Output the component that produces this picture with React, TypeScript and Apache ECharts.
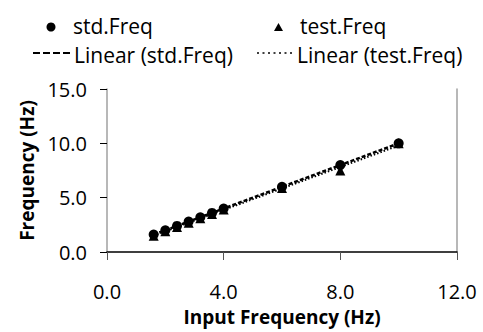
import React, { useEffect, useRef } from "react";
import * as echarts from "echarts";

const inputFreq = [1.6, 2.0, 2.4, 2.8, 3.2, 3.6, 4.0, 6.0, 8.0, 10.0];
const stdFreq = [1.6, 2.0, 2.4, 2.8, 3.2, 3.6, 4.0, 6.0, 8.0, 10.0];
const testFreq = [1.5, 1.9, 2.3, 2.7, 3.1, 3.5, 3.9, 5.9, 7.5, 10.0];
const legendLabels = ["std.Freq", "test.Freq", "Linear (std.Freq)", "Linear (test.Freq)"];
const xTitle = "Input Frequency (Hz)";
const yTitle = "Frequency (Hz)";

function linearFit(xs: number[], ys: number[]): number[][] {
  const n = xs.length;
  const mx = xs.reduce((a, b) => a + b, 0) / n;
  const my = ys.reduce((a, b) => a + b, 0) / n;
  let sxy = 0;
  let sxx = 0;
  for (let i = 0; i < n; i++) {
    sxy += (xs[i] - mx) * (ys[i] - my);
    sxx += (xs[i] - mx) * (xs[i] - mx);
  }
  const b = sxy / sxx;
  const a = my - b * mx;
  const x0 = Math.min(...xs);
  const x1 = Math.max(...xs);
  return [
    [x0, a + b * x0],
    [x1, a + b * x1],
  ];
}

const FONT = "'Open Sans', 'DejaVu Sans', sans-serif";

export default function App() {
  const ref = useRef<HTMLDivElement>(null);
  useEffect(() => {
    if (!ref.current) return;
    const chart = echarts.init(ref.current, undefined, { renderer: "svg" });
    const stdPts = inputFreq.map((x, i) => [x, stdFreq[i]]);
    const testPts = inputFreq.map((x, i) => [x, testFreq[i]]);
    const legendText = (x: number, y: number, t: string) => ({
      type: "text",
      x,
      y,
      style: { text: t, fill: "#000", font: `21px ${FONT}`, verticalAlign: "middle", align: "left" },
    });
    chart.setOption({
      animation: false,
      backgroundColor: "#fff",
      grid: { left: 107, right: 26, top: 89, bottom: 80, containLabel: false },
      xAxis: {
        type: "value",
        min: 0,
        max: 12,
        interval: 4,
        name: xTitle,
        nameLocation: "middle",
        nameGap: 55,
        nameTextStyle: { color: "#000", fontSize: 19, fontWeight: "bold", fontFamily: FONT },
        axisLine: { show: true, lineStyle: { color: "#000", width: 1.5 } },
        axisTick: { show: true, inside: false, length: 8, lineStyle: { color: "#555" } },
        axisLabel: { color: "#000", fontSize: 20, fontFamily: FONT, margin: 29, formatter: (v: number) => v.toFixed(1) },
        splitLine: { show: false },
      },
      yAxis: [
        {
          type: "value",
          min: 0,
          max: 15,
          interval: 5,
          position: "left",
          name: yTitle,
          nameLocation: "middle",
          nameGap: 70,
          nameTextStyle: { color: "#000", fontSize: 19, fontWeight: "bold", fontFamily: FONT },
          axisLine: { show: true, lineStyle: { color: "#a0a0a0", width: 1.5 } },
          axisTick: { show: true, inside: false, length: 7, lineStyle: { color: "#000" } },
          axisLabel: { color: "#000", fontSize: 20, fontFamily: FONT, margin: 20, formatter: (v: number) => v.toFixed(1) },
          splitLine: { show: false },
        },
        {
          type: "value",
          min: 0,
          max: 15,
          interval: 5,
          position: "right",
          axisLine: { show: true, lineStyle: { color: "#a0a0a0", width: 1.5 } },
          axisTick: { show: false },
          axisLabel: { show: false },
          splitLine: { show: false },
        },
      ],
      series: [
        {
          name: legendLabels[2],
          type: "line",
          data: linearFit(inputFreq, stdFreq),
          symbol: "none",
          lineStyle: { color: "#000", width: 2.5, type: [4, 2] },
          z: 1,
        },
        {
          name: legendLabels[3],
          type: "line",
          data: linearFit(inputFreq, testFreq),
          symbol: "none",
          lineStyle: { color: "#000", width: 2, type: [1.5, 2] },
          z: 1,
        },
        {
          name: legendLabels[1],
          type: "scatter",
          data: testPts,
          symbol: "triangle",
          symbolSize: 10,
          itemStyle: { color: "#000", opacity: 1 },
          z: 3,
        },
        {
          name: legendLabels[0],
          type: "scatter",
          data: stdPts,
          symbol: "circle",
          symbolSize: 10,
          itemStyle: { color: "#000", opacity: 1 },
          z: 4,
        },
      ],
      graphic: [
        { type: "circle", shape: { cx: 51, cy: 27, r: 4.5 }, style: { fill: "#000" } },
        legendText(73, 26, legendLabels[0]),
        { type: "polygon", shape: { points: [[278.5, 23], [283, 31], [274, 31]] }, style: { fill: "#000" } },
        legendText(300, 26, legendLabels[1]),
        { type: "line", shape: { x1: 33, y1: 53, x2: 70, y2: 53 }, style: { stroke: "#000", lineWidth: 2, lineDash: [7, 3] } },
        legendText(74, 55, legendLabels[2]),
        { type: "line", shape: { x1: 257, y1: 53, x2: 292, y2: 53 }, style: { stroke: "#000", lineWidth: 1.5, lineDash: [2, 3.5] } },
        legendText(297, 55, legendLabels[3]),
      ],
    });
    return () => chart.dispose();
  }, []);
  return <div ref={ref} style={{ width: 483, height: 332, position: "absolute", left: 0, top: 0 }} />;
}
